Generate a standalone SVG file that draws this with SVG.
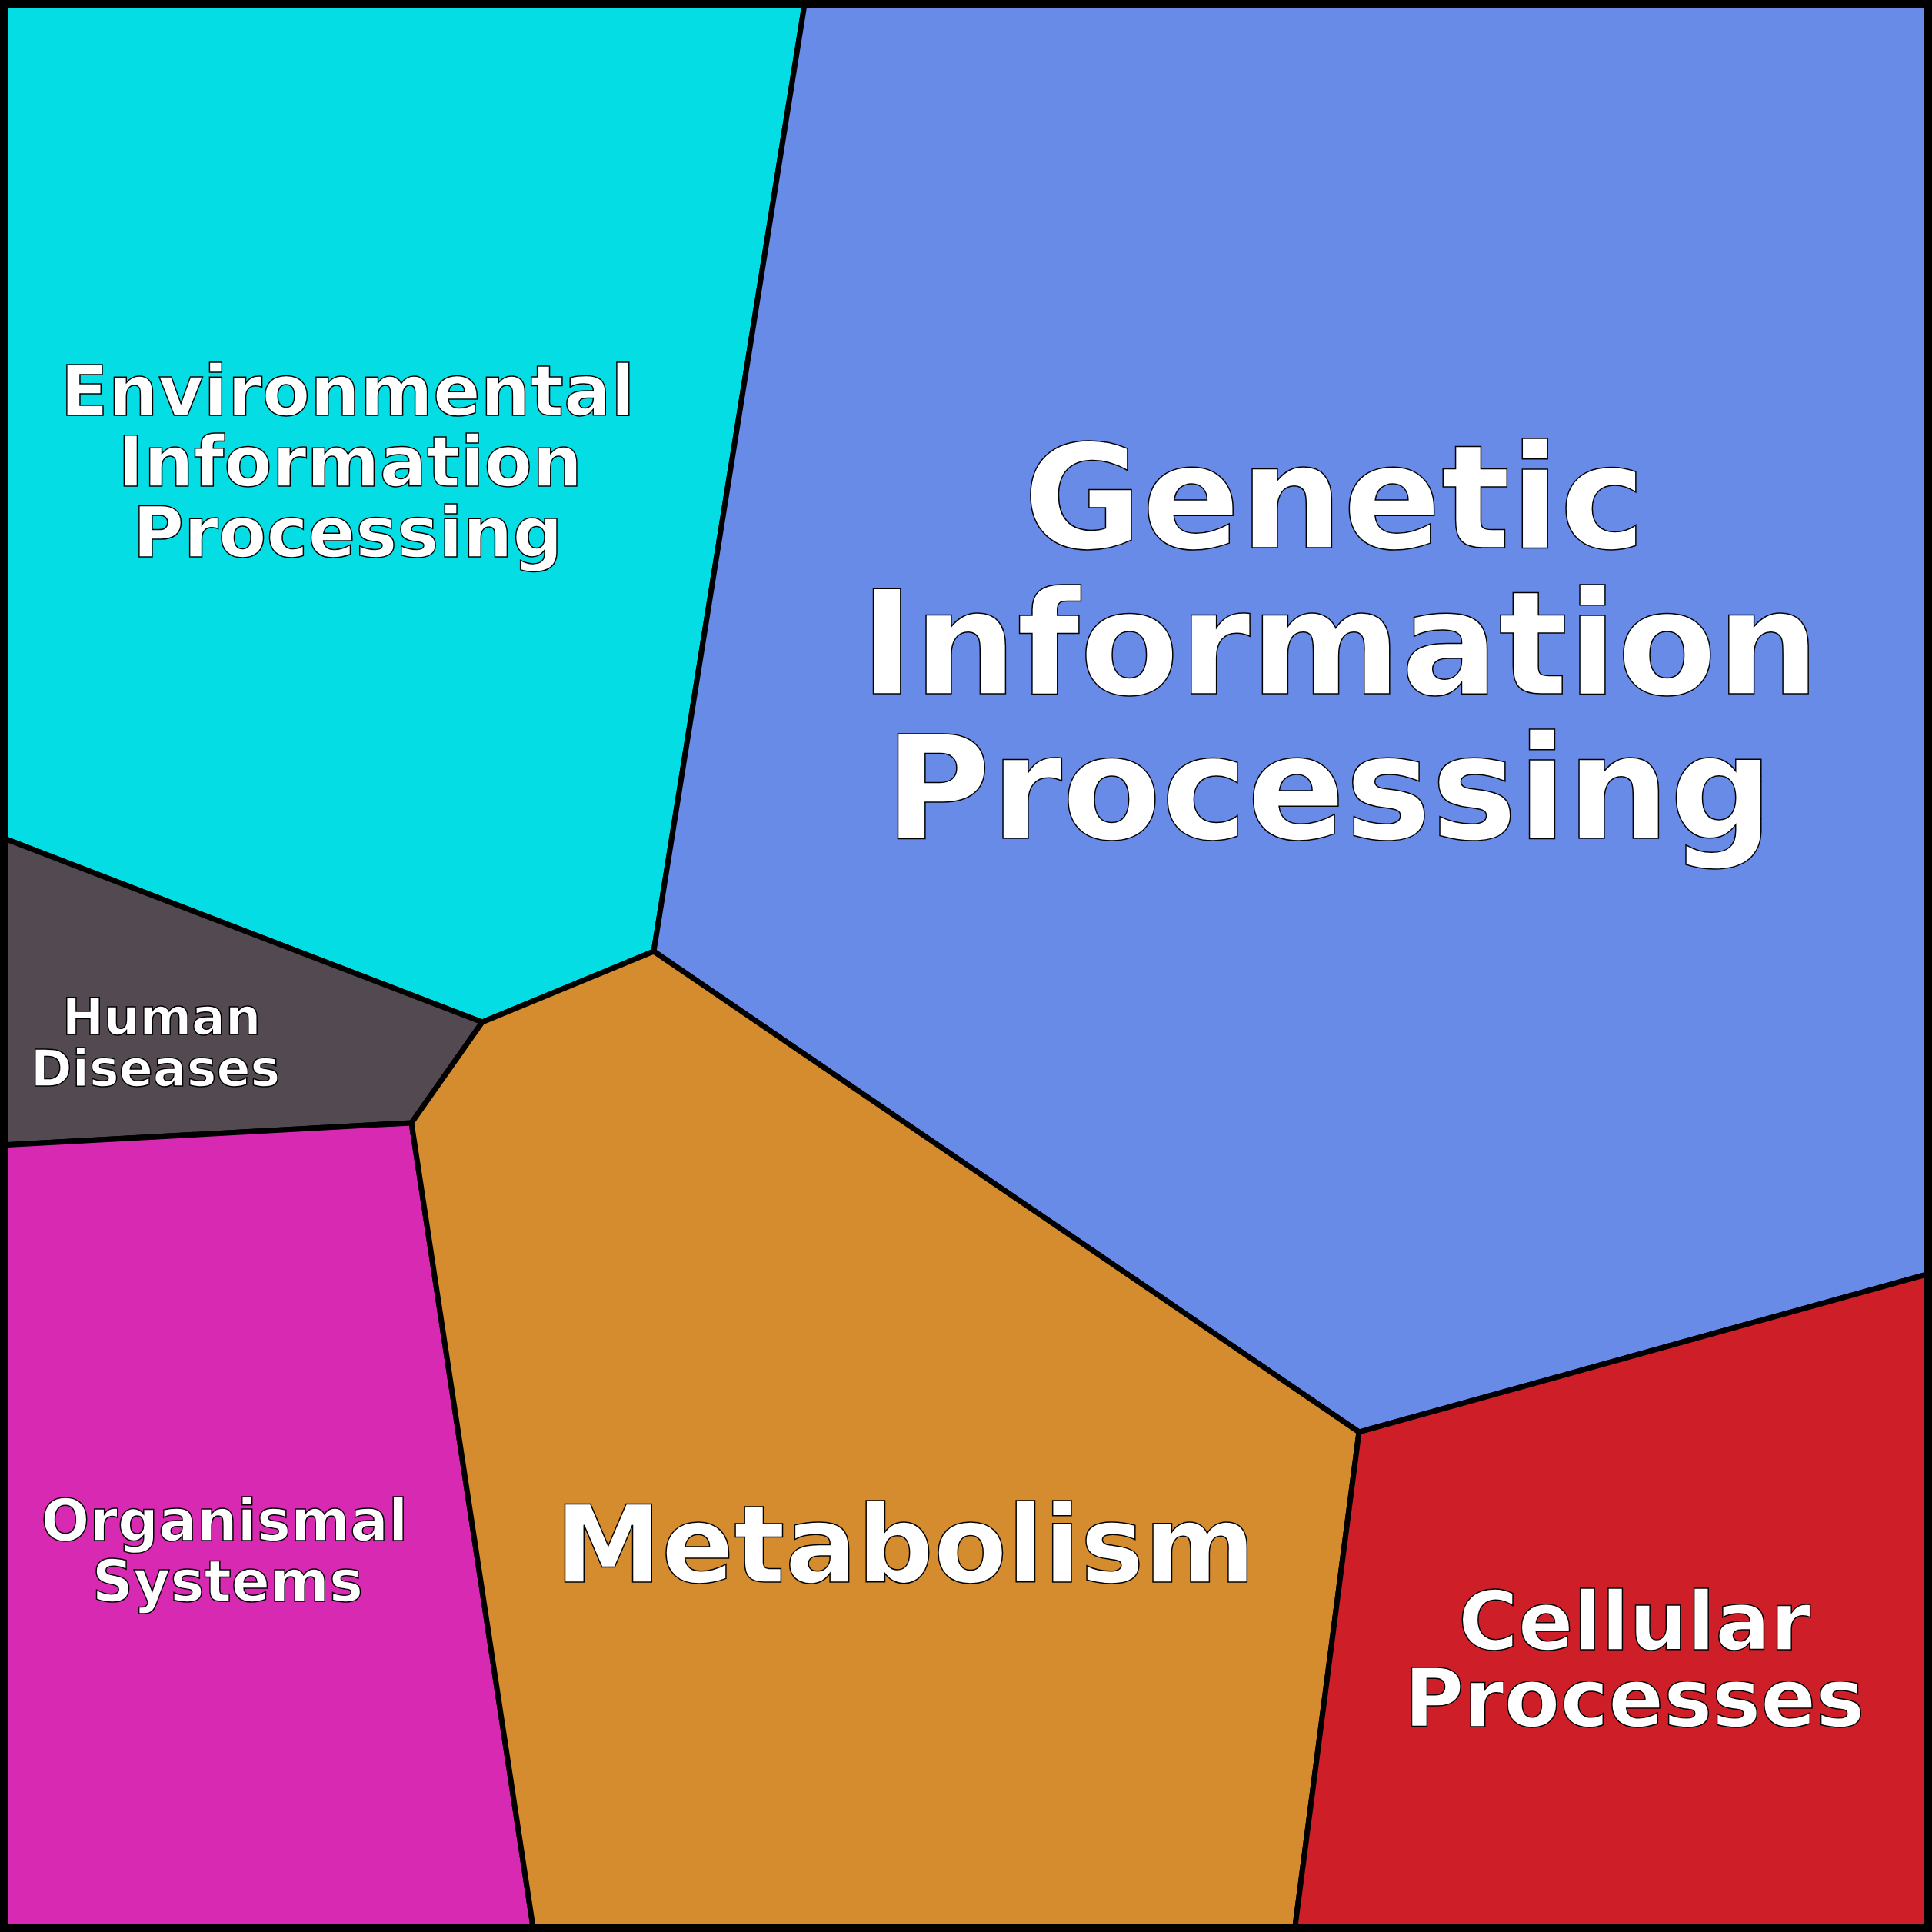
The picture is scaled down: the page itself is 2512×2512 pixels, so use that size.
<svg xmlns="http://www.w3.org/2000/svg" width="2512" height="2512" viewBox="0 0 2512 2512">
<style>
.c{stroke:#000;stroke-width:7;stroke-linejoin:round}
.t{font-family:"DejaVu Sans",sans-serif;font-weight:bold;fill:#fff;stroke:#000;stroke-width:1.5;text-anchor:middle}
</style>
<g id="env"><polygon class="c" fill="#05DDE5" points="0,0 1047,0 850,1237 627,1329 0,1088"/>
<text class="t" font-size="91"><tspan x="452" y="540">Environmental</tspan><tspan x="455" y="632">Information</tspan><tspan x="452" y="724">Processing</tspan></text></g>
<g id="genetic"><polygon class="c" fill="#688BE8" points="1047,0 2512,0 2512,1655 1767,1862 850,1237"/>
<text class="t" font-size="188"><tspan x="1735" y="712">Genetic</tspan><tspan x="1742" y="902">Information</tspan><tspan x="1728" y="1090">Processing</tspan></text></g>
<g id="human"><polygon class="c" fill="#524A50" points="0,1088 627,1329 535,1460 0,1489"/>
<text class="t" font-size="65"><tspan x="210" y="1345">Human</tspan><tspan x="202" y="1412">Diseases</tspan></text></g>
<g id="organismal"><polygon class="c" fill="#D829B3" points="0,1489 535,1460 694,2512 0,2512"/>
<text class="t" font-size="74"><tspan x="292" y="2003">Organismal</tspan><tspan x="296" y="2082">Systems</tspan></text></g>
<g id="metabolism"><polygon class="c" fill="#D48C2E" points="535,1460 627,1329 850,1237 1767,1862 1683,2512 694,2512"/>
<text class="t" font-size="139" x="1177" y="2057">Metabolism</text></g>
<g id="cellular"><polygon class="c" fill="#CE1F29" points="1767,1862 2512,1655 2512,2512 1683,2512"/>
<text class="t" font-size="106"><tspan x="2125" y="2145">Cellular</tspan><tspan x="2125" y="2245">Processes</tspan></text></g>
<g id="connectors"></g>
<rect x="5" y="5" width="2502" height="2502" fill="none" stroke="#000" stroke-width="10"/>
</svg>
